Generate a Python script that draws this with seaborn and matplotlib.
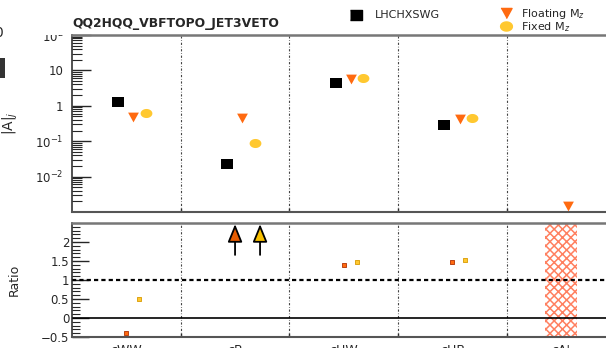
# %% bibliotecas
import numpy as np
import pandas as pd
import matplotlib
matplotlib.use("Agg")
import matplotlib.pyplot as plt
import seaborn as sns
from matplotlib.lines import Line2D
from matplotlib.patches import Rectangle
from matplotlib.ticker import FixedLocator, FixedFormatter, LogLocator, MultipleLocator, NullFormatter

sns.set_style("ticks")
plt.rcParams['font.family'] = ['DejaVu Sans']
plt.rcParams['mathtext.fontset'] = 'dejavusans'
plt.rcParams['hatch.linewidth'] = 1.1

# %% dados
categorias = ["cWW", "cB", "cHW", "cHB", "cA'"]
lhchxswg = [1.25, 0.023, 4.3, 0.28, np.nan]
floating_mz = [0.49, 0.44, 5.9, 0.43, 0.0015]
fixed_mz = [0.63, 0.091, 6.3, 0.44, np.nan]

# razao em relacao ao LHCHXSWG (cB fora da escala -> seta)
ratio_floating = [-0.4, 19.0, 1.39, 1.47, np.nan]
ratio_fixed = [0.5, 3.9, 1.47, 1.53, np.nan]

titulo = "QQ2HQQ_VBFTOPO_JET3VETO"

# cores
c_lhc = "black"
c_float = "#ff6a10"
c_fixed = "#ffc830"
c_hatch = "#ff8060"

df = pd.DataFrame({
    "pos": np.arange(len(categorias)) + 0.5,
    "lhc": lhchxswg,
    "floating": floating_mz,
    "fixed": fixed_mz,
    "r_float": ratio_floating,
    "r_fixed": ratio_fixed,
})

# marcadores um pouco "achatados" como no original
m_quad = [(-1.2, -1), (1.2, -1), (1.2, 1), (-1.2, 1)]
m_tri = [(-1.1, 1), (1.1, 1), (0, -1)]
t = np.linspace(0, 2 * np.pi, 40)
m_elip = list(zip(1.3 * np.cos(t), np.sin(t)))

# %% figura
fig = plt.figure(figsize=(6.06, 3.48), dpi=100)
W, H = 606, 348
x0, x1 = 72, 615.5
ax1 = fig.add_axes([x0 / W, 1 - 212 / H, (x1 - x0) / W, (212 - 35) / H])
ax2 = fig.add_axes([x0 / W, 1 - 337 / H, (x1 - x0) / W, (337 - 223) / H])

ymin_r, ymax_r = -0.5, 2.5
divisores = [1, 2, 3, 4]
linha_div = dict(color="#444444", lw=0.8, linestyle=(0, (2, 1.6, 0.6, 1.6)), zorder=1)

# painel de cima
for xd in divisores:
    ax1.axvline(xd, **linha_div)

sns.scatterplot(x=df["pos"] - 0.075, y=df["lhc"], marker=m_quad, color=c_lhc, s=70,
                linewidth=0, ax=ax1, zorder=3)
sns.scatterplot(x=df["pos"] + 0.065, y=df["floating"], marker=m_tri, color=c_float, s=60,
                linewidth=0, ax=ax1, zorder=3)
sns.scatterplot(x=df["pos"] + 0.18, y=df["fixed"], marker=m_elip, color=c_fixed, s=72,
                linewidth=0, ax=ax1, zorder=3)

ax1.set_yscale("log")
ax1.set_ylim(1e-3, 1e2)
ax1.set_xlim(0, len(categorias))
ax1.yaxis.set_major_locator(FixedLocator([1e-2, 1e-1, 1, 10, 100]))
ax1.yaxis.set_major_formatter(FixedFormatter(["$10^{-2}$", "$10^{-1}$", "1", "10", "$10^{2}$"]))
ax1.yaxis.set_minor_locator(LogLocator(base=10, subs=np.arange(2, 10), numticks=20))
ax1.yaxis.set_minor_formatter(NullFormatter())
ax1.set_xticks(divisores)
ax1.set_xticklabels([])
ax1.tick_params(axis="y", which="major", direction="in", length=14, width=1.0, labelsize=8.5, pad=6)
ax1.tick_params(axis="y", which="minor", direction="in", length=7, width=0.8)
ax1.tick_params(axis="x", which="major", direction="in", length=3, width=1.0)
ax1.set_ylabel("|A|$_{j}$", fontsize=10, labelpad=4)
ax1.yaxis.set_label_coords(-0.095, 0.5)
ax1.set_xlabel("")
ax1.text(0, 1.03, titulo, transform=ax1.transAxes, fontsize=8.9, fontweight="bold",
         ha="left", va="bottom")

# painel de baixo (razao)
for xd in divisores:
    ax2.axvline(xd, **linha_div)

# regiao hachurada onde nao ha referencia
for p, v in zip(df["pos"], df["lhc"]):
    if np.isnan(v):
        ax2.axvspan(p - 0.15, p + 0.15, facecolor="none", edgecolor=c_hatch,
                    hatch="xxxx", linewidth=0, zorder=2)

ax2.axhline(1, color="black", lw=1.6, linestyle=(0, (1.9, 1.4)), zorder=2)
ax2.axhline(0, color="black", lw=1.2, zorder=2)

dentro_f = df[df["r_float"] <= ymax_r]
dentro_x = df[df["r_fixed"] <= ymax_r]
sns.scatterplot(x=dentro_f["pos"], y=dentro_f["r_float"], marker="s", color=c_float, s=12,
                edgecolor="#b03000", linewidth=0.6, ax=ax2, zorder=3)
sns.scatterplot(x=dentro_x["pos"] + 0.12, y=dentro_x["r_fixed"], marker="s", color=c_fixed, s=12,
                edgecolor="#d89a00", linewidth=0.6, ax=ax2, zorder=3)

# setas para valores fora da escala
setas = [(df["pos"], df["r_float"], 0.0, "#e65c00"), (df["pos"], df["r_fixed"], 0.23, "#f8c000")]
for pos, vals, off, cor in setas:
    for p, v in zip(pos, vals):
        if v > ymax_r:
            ax2.annotate("", xy=(p + off, 2.47), xytext=(p + off, 1.66),
                         arrowprops=dict(arrowstyle="-|>,head_length=1.1,head_width=0.45",
                                         fc=cor, ec="black", lw=1.3, mutation_scale=10,
                                         shrinkA=0, shrinkB=0), zorder=4)

ax2.set_xlim(0, len(categorias))
ax2.set_ylim(ymin_r, ymax_r)
ax2.yaxis.set_major_locator(FixedLocator([-0.5, 0, 0.5, 1, 1.5, 2]))
ax2.yaxis.set_major_formatter(FixedFormatter(["\u22120.5", "0", "0.5", "1", "1.5", "2"]))
ax2.yaxis.set_minor_locator(MultipleLocator(0.1))
ax2.set_xticks(list(df["pos"]))
ax2.set_xticklabels(categorias, fontsize=9)
ax2.set_xticks(divisores, minor=True)
ax2.tick_params(axis="x", which="major", length=0, pad=5)
ax2.tick_params(axis="x", which="minor", direction="in", length=3, width=1.0)
ax2.tick_params(axis="y", which="major", direction="in", length=12, width=1.0, labelsize=8.5, pad=2)
ax2.tick_params(axis="y", which="minor", direction="in", length=6, width=0.8)
ax2.set_ylabel("Ratio", fontsize=9)
ax2.yaxis.set_label_coords(-0.095, 0.5)
ax2.set_xlabel("")

for ax in (ax1, ax2):
    for s in ax.spines.values():
        s.set_color("#222222")
        s.set_linewidth(1.1)
    ax.spines["top"].set_color("#777777")
    ax.spines["top"].set_linewidth(1.8)
    ax.spines["bottom"].set_color("#555555")
    ax.spines["bottom"].set_linewidth(1.5)

# legenda desenhada a mao (estilo ROOT)
def fx(px):
    return px / W

def fy(py):
    return 1 - py / H

fig.add_artist(Line2D([fx(356)], [fy(15)], marker=m_quad, color=c_lhc, markersize=8.5, linestyle=""))
fig.text(fx(375), fy(15), "LHCHXSWG", fontsize=8, va="center", ha="left")
fig.add_artist(Line2D([fx(506)], [fy(13)], marker=m_tri, color=c_float, markersize=8, linestyle=""))
fig.text(fx(521), fy(14), "Floating M$_{z}$", fontsize=8, va="center", ha="left")
fig.add_artist(Line2D([fx(506)], [fy(26)], marker=m_elip, color=c_fixed, markersize=8.5, linestyle=""))
fig.text(fx(521), fy(27), "Fixed M$_{z}$", fontsize=8, va="center", ha="left")

# restos de outro painel na borda esquerda
fig.text(fx(-6), fy(33), "0", fontsize=10, va="center", ha="left")
fig.patches.append(Rectangle((0, fy(78)), fx(5), fy(58) - fy(78), transform=fig.transFigure,
                             facecolor="#333333", edgecolor="none", zorder=5))
# a parte de cima do rotulo 10^2 fica escondida
fig.patches.append(Rectangle((fx(30), fy(35)), fx(41), 1 - fy(35) - fy(H - 12), transform=fig.transFigure,
                             facecolor="white", edgecolor="none", zorder=5))

plt.savefig("out.png", dpi=100)
